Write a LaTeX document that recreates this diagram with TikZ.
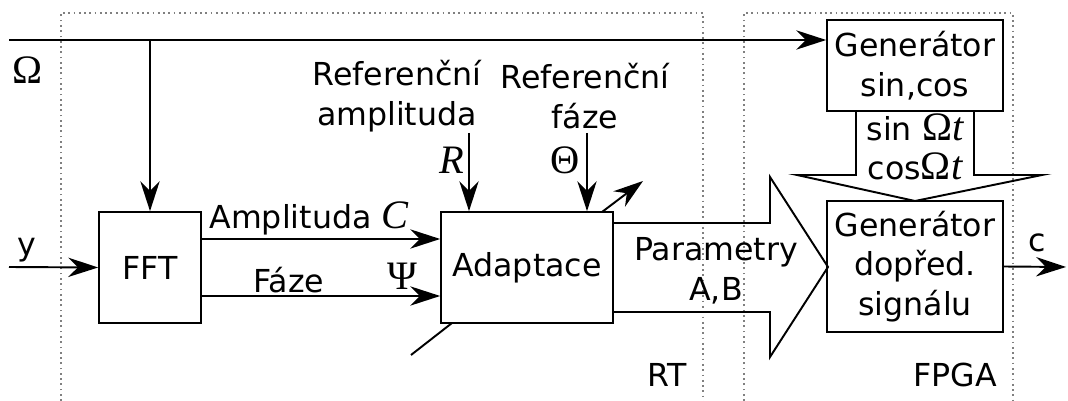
\documentclass[tikz,border=0pt]{standalone}
\usepackage{fontspec}
\setmainfont{DejaVu Sans}
\newfontfamily\serifsym{Liberation Serif}
\usetikzlibrary{arrows.meta}
\newcommand{\sym}[1]{{\serifsym\fontsize{23}{26}\selectfont #1}}
\tikzset{
	blok/.style={draw, line width=1pt, align=center, inner sep=0pt},
	sipka/.style={line width=1.1pt, -{Stealth[length=17pt,width=11pt,inset=5.5pt]}},
	cara/.style={line width=1.1pt},
	oblast/.style={draw=gray, dotted, line width=1pt},
	popis/.style={align=center, inner sep=0pt}
}

\begin{document}
\begin{tikzpicture}[x=0.02cm, y=-0.02cm, font=\fontsize{18}{22.5}\selectfont]
		%%%%% START %%%%%
		\useasboundingbox (0,0) rectangle (1068,401);
		
		\draw[oblast] (61,401) -- (61,13) -- (703,13) -- (703,401);
		\draw[oblast] (744,401) -- (744,13) -- (1013,13) -- (1013,401);
		\node[popis] (rt) at (667,375) {RT};
		\node[popis] (fpga) at (955,375) {FPGA};
		
		\node[blok, minimum width=2.04cm, minimum height=2.22cm] (fft) at (150,267.5) {FFT};
		\node[blok, minimum width=3.44cm, minimum height=2.22cm] (adapt) at (527,267.5) {Adaptace};
		\node[blok, minimum width=3.52cm, minimum height=1.82cm] (gensc) at (915,65.5) {Generátor\\sin,cos};
		\node[blok, minimum width=3.52cm, minimum height=2.62cm] (genfw) at (915,266.5) {Generátor\\dopřed.\\signálu};
		
		\coordinate (om) at (9,40);
		\coordinate (odb) at (150,40);
		\node[popis] (omlab) at (28,70) {\sym{Ω}};
		\draw[sipka] (om) -- (om -| gensc.west);
		\draw[sipka] (odb) -- (fft.north);
		
		\coordinate (vstup) at (9,267);
		\node[popis] (ylab) at (27,250) {y};
		\draw[sipka] (vstup) -- (fft.west);
		
		\coordinate (hA) at (0,239);
		\coordinate (hF) at (0,296);
		\draw[sipka] (fft.east |- hA) -- (adapt.west |- hA);
		\draw[sipka] (fft.east |- hF) -- (adapt.west |- hF);
		\node[popis] (amplab) at (309,218) {Amplituda \sym{\itshape C}};
		\node[popis] (fazlab) at (289,280) {Fáze};
		\node[popis] (psilab) at (402,276) {\sym{Ψ}};
		
		\node[popis] (refalab) at (397,96) {Referenční\\amplituda};
		\node[popis] (refflab) at (585,96) {Referenční\\fáze};
		\coordinate (refA) at (469,133);
		\coordinate (refF) at (587,133);
		\draw[sipka] (refA) -- (refA |- adapt.north);
		\draw[sipka] (refF) -- (refF |- adapt.north);
		\node[popis] (rlab) at (452,160) {\sym{\itshape R}};
		\node[popis] (thlab) at (565,160) {\sym{Θ}};
		
		\coordinate (nast1) at (602,212);
		\coordinate (nast2) at (643,181);
		\draw[sipka] (nast1) -- (nast2);
		\coordinate (dol1) at (452,323);
		\coordinate (dol2) at (411,355);
		\draw[cara] (dol1) -- (dol2);
		
		% velke sipky
		\draw[cara] (613,223) -- (770,223) -- (770,177) -- (828,267) -- (770,357) -- (770,312) -- (613,312);
		\node[popis] (parlab) at (716,271) {Parametry\\A,B};
		\draw[cara] (856,111) -- (856,175) -- (797,175) -- (915,201) -- (1042,175) -- (974,175) -- (974,111);
		\node[popis] (sclab) at (915,147) {sin \sym{Ω\itshape t}\\cos\sym{Ω\itshape t}};
		
		\coordinate (vystup) at (1066,267);
		\node[popis] (clab) at (1037,243) {c};
		\draw[sipka] (genfw.east) -- (vystup);
		%%%%% END %%%%%
\end{tikzpicture}
\end{document}
